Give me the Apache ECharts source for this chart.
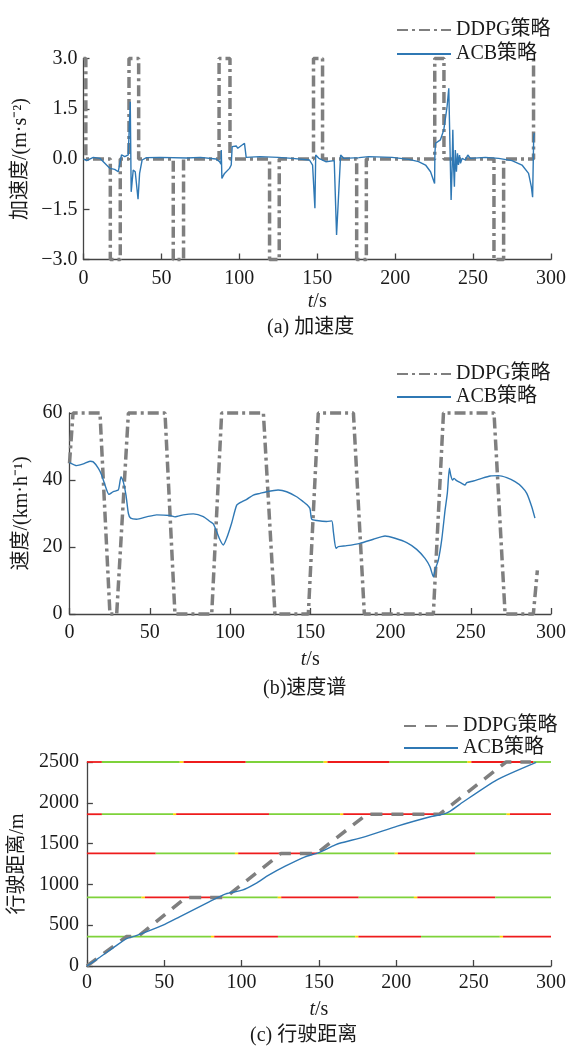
<!DOCTYPE html>
<html><head><meta charset="utf-8">
<script src="https://cdn.jsdelivr.net/npm/echarts@6/dist/echarts.min.js"></script>
<style>html,body{margin:0;padding:0;background:#fff}#c{width:569px;height:1046px}</style>
</head><body><div id="c"></div>
<script>
// ---------- data ----------
const xTicks = [0, 50, 100, 150, 200, 250, 300];
// (a) acceleration
const ddpgAccT = [0, 1.5, 1.5, 17.2, 17.2, 23.6, 23.6, 29.2, 29.2, 35.4, 35.4, 57.6, 57.6, 64.2, 64.2, 87, 87, 94, 94, 119.4, 119.4, 125.6, 125.6, 147.6, 147.6, 153.4, 153.4, 175.3, 175.3, 181.5, 181.5, 225.4, 225.4, 231.3, 231.3, 263.4, 263.4, 269.6, 269.6, 288.8, 288.8];
const ddpgAccV = [3, 3, 0, 0, -3, -3, 0, 0, 3, 3, 0, 0, -3, -3, 0, 0, 3, 3, 0, 0, -3, -3, 0, 0, 3, 3, 0, 0, -3, -3, 0, 0, 3, 3, 0, 0, -3, -3, 0, 0, 3];
const acbAccT = [0, 2, 6.3, 10.5, 14.8, 17, 20, 22.3, 24.4, 26.5, 28.7, 29.5, 30, 30.6, 31.9, 33.2, 35, 36, 37.6, 40.4, 49, 66, 75, 85, 87.3, 88.2, 88.4, 88.8, 90.5, 93.7, 94.8, 95.4, 98, 99, 103.3, 104.4, 113, 125, 134, 145, 147, 148.5, 149, 151, 155.5, 160.9, 162.4, 165, 167, 176.9, 183, 198, 208.8, 215, 219.5, 222.7, 225.3, 225.5, 225.9, 229, 231.2, 233.3, 234.4, 235, 235.9, 236.5, 237, 237.5, 238, 238.6, 239.3, 240, 240.6, 241.3, 241.9, 243, 245, 246.6, 248.3, 257.9, 266.4, 275, 281.4, 285.6, 287.4, 288.2, 288.9, 289.3];
const acbAccV = [0, -0.05, 0.05, 0.02, -0.18, -0.28, -0.31, -0.38, 0.12, 0.07, 0.12, 0.15, 1.71, -0.98, -0.33, -0.38, -1.2, -0.43, -0.03, 0.04, 0.05, 0.03, 0.05, 0, -0.08, -0.15, 0.27, -0.58, -0.43, -0.28, -0.18, 0.37, 0.39, 0.32, 0.47, 0.05, 0.07, 0.05, 0.02, -0.03, -0.18, -1.47, 0.12, 0.02, -0.08, -0.05, -2.27, 0.12, 0.02, 0.04, 0.07, 0.05, -0.01, -0.08, -0.18, -0.38, -0.73, 0.17, 0.47, 0.57, 0.87, 1.56, 2.11, 2.16, -1.22, -0.33, 0.87, -0.23, -0.83, 0.27, -0.38, 0.17, -0.18, 0.12, -0.13, 0.02, -0.03, 0.12, 0.02, 0.05, 0.02, -0.05, -0.18, -0.43, -0.83, -1.14, 0.67, 0.77];
// (b) speed
const ddpgSpdT = [0, 2.2, 19, 25.2, 29.4, 36.7, 59.5, 65.7, 88.6, 94.8, 120.8, 128, 148.8, 155, 176.9, 183.7, 226.7, 233, 264.5, 271.4, 289, 291.5];
const ddpgSpdV = [45, 60, 60, 0, 0, 60, 60, 0, 0, 60, 60, 0, 0, 60, 60, 0, 0, 60, 60, 0, 0, 13];
const acbSpdT = [0, 4.5, 8.6, 12.8, 14.8, 18, 20, 22.1, 24.6, 27.3, 30.4, 31, 32.1, 33.5, 35.2, 36.7, 38.1, 41.8, 48, 54.3, 62.6, 65.7, 70.9, 77.2, 83.4, 87.5, 89.6, 91.7, 93.8, 95.8, 97.9, 101, 104.2, 107.3, 110.4, 114.5, 118.7, 122.8, 130, 135.3, 141.5, 145.7, 148, 149.8, 150.9, 154, 160.2, 163.4, 164.4, 166, 167.5, 172.7, 180.9, 189.3, 196.6, 202.8, 210.1, 216.3, 221.5, 224.6, 226.7, 227.7, 229.8, 231.9, 234, 235.4, 236.7, 237.5, 238.7, 239.6, 241.2, 244.4, 246.4, 247.5, 251.6, 256.8, 262.1, 267.2, 272.4, 277.6, 281.7, 284.9, 288, 290];
const acbSpdV = [45.2, 44.3, 44.8, 45.6, 45.4, 43.5, 41.5, 38.5, 35.7, 36.5, 37, 38.2, 41, 39.5, 35.5, 30, 28.6, 28.3, 29, 29.6, 29.4, 29, 29.6, 29.9, 29.1, 27.6, 26.9, 24.6, 22.1, 20.6, 22.6, 27.1, 32.5, 33.5, 34.2, 35.5, 36, 36.5, 37, 36.5, 35, 33.5, 32.6, 31.5, 28.3, 27.9, 27.6, 27.8, 24.6, 19.6, 20.1, 20.4, 21.1, 22.3, 23.3, 22.6, 21.3, 19.3, 16.6, 14.1, 11.1, 13.1, 16.1, 22.1, 31, 36, 43.5, 41.5, 40, 40.5, 39.8, 39, 38.5, 39.2, 39.7, 40.5, 41.2, 41.3, 40.7, 39.5, 38, 36, 32, 28.6];
// (c) distance
const ddpgDisT = [0, 25.5, 33, 64, 89.5, 125.5, 148.5, 181, 228, 271, 287];
const ddpgDisV = [0, 360, 360, 840, 840, 1380, 1380, 1860, 1860, 2500, 2500];
const acbDisT = [0, 8.6, 17.2, 25.7, 31, 49.2, 59.9, 79, 89.8, 100.4, 109, 117.5, 128.2, 141, 149.5, 160.2, 164.5, 179.4, 200.7, 222, 230.6, 234.9, 243.4, 264.8, 290.4];
const acbDisV = [0, 110, 226, 336, 365, 500, 602, 786, 884, 929, 1010, 1113, 1223, 1338, 1387, 1481, 1510, 1583, 1714, 1829, 1861, 1898, 2013, 2279, 2495];
// traffic signals: level (m), phase boundaries (s), phases (G/Y/R)
const sigLevels = [360, 840, 1380, 1860, 2500];
const sigTimes = [
  [0, 80.2, 82.3, 123.5, 173.4, 175.5, 216, 266.9, 269, 300],
  [0, 35.3, 37.5, 87.7, 123.4, 125.6, 175.7, 211.4, 213.6, 264, 300],
  [0, 44.5, 95.7, 97.8, 149, 199, 201, 251, 300],
  [0, 9.7, 55.7, 57.7, 117.7, 163.7, 165.7, 225.7, 271.3, 273.5, 300],
  [0, 9.7, 60, 62.5, 102.7, 153, 155.5, 195.7, 246, 248.5, 288.7, 300]
];
const sigPhases = [
  ['G','Y','R','G','Y','R','G','Y','R'],
  ['G','Y','R','G','Y','R','G','Y','R','G'],
  ['R','G','Y','R','G','Y','R','G'],
  ['R','G','Y','R','G','Y','R','G','Y','R'],
  ['R','G','Y','R','G','Y','R','G','Y','R','G']
];
const legendNames = ['DDPG策略', 'ACB策略'];

// ---------- chart ----------
const FONT = "'Liberation Serif','Times New Roman','Noto Sans CJK SC',serif";
const TXT = '#1a1a1a';
const AX = '#444';
const GRAY = '#7f7f7f';
const BLUE = '#2f78b4';
const sigColor = {G: '#7ed23a', Y: '#ffd400', R: '#ee1c1c'};
const zip = (T, V) => T.map((t, i) => [t, V[i]]);

function xAxis(gi, nameGap, margin) {
  return {
    type: 'value', gridIndex: gi, min: 0, max: 300, interval: 50,
    axisLine: {onZero: false, lineStyle: {color: AX, width: 1.3}},
    axisTick: {inside: true, length: 6, lineStyle: {color: AX, width: 1.3}},
    axisLabel: {margin: margin, fontFamily: FONT, fontSize: 20, color: TXT},
    splitLine: {show: false},
    name: '{i|t}/s', nameLocation: 'middle', nameGap: nameGap,
    nameTextStyle: {fontFamily: FONT, fontSize: 20, color: TXT,
      rich: {i: {fontStyle: 'italic', fontFamily: FONT, fontSize: 20, color: TXT}}}
  };
}
function yAxis(gi, min, max, interval, name, nameGap, margin, fmt) {
  return {
    type: 'value', gridIndex: gi, min: min, max: max, interval: interval,
    axisLine: {show: true, lineStyle: {color: AX, width: 1.3}},
    axisTick: {show: true, inside: true, length: 6, lineStyle: {color: AX, width: 1.3}},
    axisLabel: {margin: margin, fontFamily: FONT, fontSize: 20, color: TXT, formatter: fmt},
    splitLine: {show: false},
    name: name, nameLocation: 'middle', nameGap: nameGap,
    nameTextStyle: {fontFamily: FONT, fontSize: 20, color: TXT}
  };
}
function legend(left, top, gap, suffix) {
  return {
    orient: 'vertical', left: left, top: top, itemGap: gap, itemWidth: 54, itemHeight: 20,
    itemStyle: {opacity: 0},
    data: legendNames.map(n => n + suffix),
    formatter: n => n.replace(/_.$/, ''),
    textStyle: {fontFamily: FONT, fontSize: 20, color: TXT},
    selectedMode: false
  };
}

const series = [];
// traffic signal segments
sigLevels.forEach((lv, k) => {
  const T = sigTimes[k], P = sigPhases[k];
  P.forEach((p, j) => {
    series.push({type: 'line', xAxisIndex: 2, yAxisIndex: 2, silent: true, symbol: 'none', z: 1,
      data: [[T[j], lv], [T[j + 1], lv]],
      lineStyle: {color: sigColor[p], width: 1.8}});
  });
});
const dashDot = [11, 4, 3, 4];
series.push(
  {name: 'DDPG策略_a', type: 'line', xAxisIndex: 0, yAxisIndex: 0, symbol: 'none', clip: false, z: 3,
   data: zip(ddpgAccT, ddpgAccV), lineStyle: {color: GRAY, width: 3.5, type: dashDot}, itemStyle: {color: GRAY}},
  {name: 'ACB策略_a', type: 'line', xAxisIndex: 0, yAxisIndex: 0, symbol: 'none', clip: false, z: 4,
   data: zip(acbAccT, acbAccV), lineStyle: {color: BLUE, width: 1.4}, itemStyle: {color: BLUE}},
  {name: 'DDPG策略_b', type: 'line', xAxisIndex: 1, yAxisIndex: 1, symbol: 'none', clip: false, z: 3,
   data: zip(ddpgSpdT, ddpgSpdV), lineStyle: {color: GRAY, width: 3.5, type: dashDot}, itemStyle: {color: GRAY}},
  {name: 'ACB策略_b', type: 'line', xAxisIndex: 1, yAxisIndex: 1, symbol: 'none', clip: false, z: 4, smooth: 0.2,
   data: zip(acbSpdT, acbSpdV), lineStyle: {color: BLUE, width: 1.4}, itemStyle: {color: BLUE}},
  {name: 'DDPG策略_c', type: 'line', xAxisIndex: 2, yAxisIndex: 2, symbol: 'none', clip: false, z: 3,
   data: zip(ddpgDisT, ddpgDisV), lineStyle: {color: GRAY, width: 3.5, type: [12, 9]}, itemStyle: {color: GRAY}},
  {name: 'ACB策略_c', type: 'line', xAxisIndex: 2, yAxisIndex: 2, symbol: 'none', clip: false, z: 4, smooth: 0.2,
   data: zip(acbDisT, acbDisV), lineStyle: {color: BLUE, width: 1.4}, itemStyle: {color: BLUE}}
);

const fmtAcc = v => v.toFixed(1).replace('-', '−');
const fmtInt = v => String(v);
const option = {
  animation: false,
  backgroundColor: '#fff',
  textStyle: {fontFamily: FONT},
  grid: [
    {left: 83.5, top: 58.5, width: 468.5, height: 201},
    {left: 69.5, top: 413, width: 481.5, height: 201},
    {left: 86.5, top: 762, width: 468.5, height: 204}
  ],
  legend: [legend(391, 15, 4, '_a'), legend(391, 359, 3, '_b'), legend(398, 711, 2, '_c')],
  xAxis: [xAxis(0, 32, 9), xAxis(1, 36, 9), xAxis(2, 34, 7)],
  yAxis: [
    yAxis(0, -3, 3, 1.5, '加速度/(m·s⁻²)', 51, 6, fmtAcc),
    yAxis(1, 0, 60, 20, '速度/(km·h⁻¹)', 36, 7, fmtInt),
    yAxis(2, 0, 2500, 500, '行驶距离/m', 58, 8, fmtInt)
  ],
  graphic: [
    {type: 'text', left: 267, top: 318, style: {text: '(a) 加速度', font: '20px ' + FONT, fill: TXT}},
    {type: 'text', left: 263, top: 679, style: {text: '(b)速度谱', font: '20px ' + FONT, fill: TXT}},
    {type: 'text', left: 250, top: 1026, style: {text: '(c) 行驶距离', font: '20px ' + FONT, fill: TXT}}
  ],
  series: series
};
const chart = echarts.init(document.getElementById('c'), null, {renderer: 'canvas'});
chart.setOption(option);
</script></body></html>
